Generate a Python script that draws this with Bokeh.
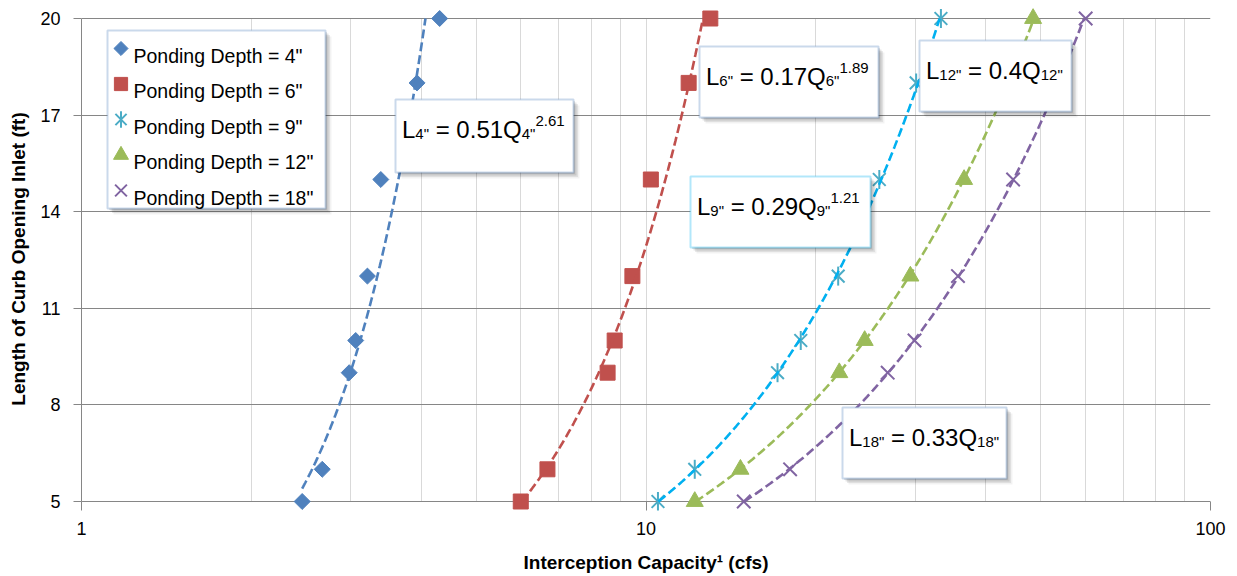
import numpy as np
from bokeh.plotting import figure
from bokeh.models import Range1d, FixedTicker, BasicTickFormatter, BoxAnnotation, Label
from bokeh.embed import file_html
from bokeh.resources import INLINE

# ---------------- data ----------------
depths = ['4"', '6"', '9"', '12"', '18"']
length_ft = [5, 6, 9, 10, 12, 15, 18, 20]
q_4in = [2.46, 2.67, 2.98, 3.06, 3.21, 3.39, 3.93, 4.31]
q_6in = [6.00, 6.69, 8.55, 8.80, 9.46, 10.2, 11.9, 13.0]
q_9in = [10.5, 12.2, 17.1, 18.8, 21.9, 25.9, 30.1, 33.3]
q_12in = [12.2, 14.7, 22.0, 24.4, 29.4, 36.6, 43.8, 48.5]
q_18in = [14.9, 18.0, 26.8, 29.9, 35.7, 44.7, 53.5, 60.1]
eq_coef = ["0.51", "0.17", "0.29", "0.4", "0.33"]
eq_exp = ["2.61", "1.89", "1.21", "", ""]
x_ticks = [1, 10, 100]
y_ticks = [5, 8, 11, 14, 17, 20]
x_title = "Interception Capacity\u00b9 (cfs)"
y_title = "Length of Curb Opening Inlet (ft)"

# ---------------- layout (screenshot pixels) ----------------
FONT = "Liberation Sans"
FL, FT, FW, FH = 81, 18, 1129, 483      # plot area (y=20 at FT, y=5 at FT+FH)
PAD_TOP, PAD_BOT = 11, 9                # room so edge markers are not clipped
X0, X1, Y0, Y1 = 1, 100, 5, 20
UPP = (Y1 - Y0) / FH                    # data units per pixel (y)

def dx(px):
    return X0 * (X1 / X0) ** ((px - FL) / FW)

def dy(py):
    return Y1 - (Y1 - Y0) * (py - FT) / FH

BLUE, RED, AQUA, GREEN, PURPLE = "#4F81BD", "#C0504D", "#4BACC6", "#9BBB59", "#8064A2"
CYAN = "#00B0F0"
GRID_DARK, GRID_LIGHT = "#868686", "#D9D9D9"

p = figure(x_axis_type="log", x_range=Range1d(X0, X1),
           y_range=Range1d(Y0 - PAD_BOT * UPP, Y1 + PAD_TOP * UPP),
           frame_width=FW, frame_height=FH + PAD_TOP + PAD_BOT,
           min_border_left=FL, min_border_top=FT - PAD_TOP,
           min_border_right=18, min_border_bottom=55,
           output_backend="svg", toolbar_location=None,
           background_fill_color="white", border_fill_color="white")
p.outline_line_color = None

xt = FixedTicker(ticks=x_ticks, minor_ticks=[m * d for d in (1, 10) for m in range(2, 10)])
yt = FixedTicker(ticks=y_ticks, minor_ticks=[])
p.xaxis.ticker = xt
p.xgrid.ticker = xt
p.yaxis.ticker = yt
p.ygrid.ticker = yt
p.xaxis.formatter = BasicTickFormatter()
p.yaxis.bounds = (Y0, Y1)
p.xgrid.cross_bounds = (Y0, Y1)

p.xgrid.grid_line_color = GRID_LIGHT
p.xgrid.minor_grid_line_color = GRID_LIGHT
p.ygrid.grid_line_color = GRID_DARK

for ax in (p.xaxis, p.yaxis):
    ax.axis_line_color = GRID_DARK
    ax.major_tick_line_color = GRID_DARK
    ax.minor_tick_line_color = None
    ax.major_label_text_font = FONT
    ax.major_label_text_font_size = "18px"
    ax.major_label_text_color = "black"
    ax.axis_label_text_font = FONT
    ax.axis_label_text_font_size = "19px"
    ax.axis_label_text_font_style = "bold"
    ax.axis_label_text_color = "black"

p.yaxis.major_tick_out = 8
p.yaxis.major_tick_in = 0
p.xaxis.axis_line_color = None
p.xaxis.major_tick_out = 0
p.xaxis.major_tick_in = PAD_BOT

p.xaxis.axis_label = x_title
p.yaxis.axis_label = y_title
p.xaxis.major_label_standoff = 7
p.yaxis.major_label_standoff = 13
p.xaxis.axis_label_standoff = 14
p.yaxis.axis_label_standoff = 8

# ---------------- series ----------------
series_q = [q_4in, q_6in, q_9in, q_12in, q_18in]
trend_colors = [BLUE, RED, CYAN, GREEN, PURPLE]

def draw_marker(idx, xs, ys, scale=1.0, level="glyph"):
    if idx == 0:
        p.scatter(xs, ys, marker="square", angle=np.pi / 4, size=11.3 * scale,
                  fill_color=BLUE, line_color=BLUE, level=level)
    elif idx == 1:
        p.scatter(xs, ys, marker="square", size=15 * scale,
                  fill_color=RED, line_color=RED, level=level)
    elif idx == 2:
        p.scatter(xs, ys, marker="x", size=18 * scale, line_color=AQUA,
                  line_width=2, level=level)
        p.scatter(xs, ys, marker="dash", angle=np.pi / 2, size=19 * scale,
                  line_color=AQUA, line_width=2, level=level)
    elif idx == 3:
        p.scatter(xs, ys, marker="triangle", size=17 * scale,
                  fill_color=GREEN, line_color=GREEN, level=level)
    else:
        p.scatter(xs, ys, marker="x", size=19 * scale, line_color=PURPLE,
                  line_width=2, level=level)

for i, q in enumerate(series_q):
    draw_marker(i, q, length_ft)

# power trend lines fitted to each series (as Excel does), kept inside 5..20 ft
for i, q in enumerate(series_q):
    qa = np.array(q, dtype=float)
    la = np.array(length_ft, dtype=float)
    b, ln_a = np.polyfit(np.log(qa), np.log(la), 1)
    a = np.exp(ln_a)
    q_lo = max(qa.min(), (Y0 / a) ** (1 / b))
    q_hi = min(qa.max(), (Y1 / a) ** (1 / b))
    qs = np.geomspace(q_lo, q_hi, 120)
    p.line(qs, a * qs ** b, line_color=trend_colors[i],
           line_width=2.6, line_dash="9 4")

# ---------------- boxes ----------------
def add_box(l, t, r, b, color, lw=2):
    for off, al in ((6, 0.05), (4.5, 0.08), (3, 0.10), (1.5, 0.10)):
        p.add_layout(BoxAnnotation(left=dx(l + off), right=dx(r + off),
                                   top=dy(t + off), bottom=dy(b + off),
                                   fill_color="black", fill_alpha=al,
                                   line_color=None))
    p.add_layout(BoxAnnotation(left=dx(l), right=dx(r), top=dy(t), bottom=dy(b),
                               fill_color="white", fill_alpha=1.0,
                               line_color=color, line_width=lw))

# Arial / Liberation Sans advance widths (per 1000 em)
ADV = {"L": 556, "Q": 778, "=": 584, " ": 278, ".": 278, '"': 355}
for c in "0123456789":
    ADV[c] = 556

def text_w(s, size):
    return sum(ADV.get(c, 556) for c in s) * size / 1000.0

def add_text(px, py, text, size, bold=False):
    p.add_layout(Label(x=dx(px), y=dy(py), text=text, text_font=FONT,
                       text_font_size=f"{size}px", text_color="black",
                       text_baseline="alphabetic", text_align="left",
                       text_font_style="bold" if bold else "normal"))

EQ, SUB = 24, 15
eq_boxes = [(395, 99, 573, 172), (699, 46, 878, 117), (690, 176, 870, 247),
            (919, 40, 1071, 111), (842, 407, 1006, 478)]
eq_border = [BLUE, BLUE, CYAN, BLUE, BLUE]

for i, (l, t, r, b) in enumerate(eq_boxes):
    add_box(l, t, r, b, eq_border[i])
    base = t + 29.5
    # (text, font size, baseline shift, leading gap in px)
    pieces = [("L", EQ, 0, 0), (depths[i], SUB, 4.5, 0),
              ("= " + eq_coef[i] + "Q", EQ, 0, text_w(" ", EQ)),
              (depths[i], SUB, 4.5, 0)]
    if eq_exp[i]:
        pieces.append((eq_exp[i], SUB, -8, 0))
    cx = l + 6.5
    for txt, size, shift, gap in pieces:
        cx += gap
        add_text(cx, base + shift, txt, size)
        cx += text_w(txt, size)

# ---------------- legend ----------------
LG = (107, 30, 325, 208)
add_box(*LG, BLUE)
leg_y = [48, 83.5, 119, 154.5, 190]
for i, d in enumerate(depths):
    draw_marker(i, [dx(120.5)], [dy(leg_y[i])], scale=0.88, level="overlay")
    add_text(133, leg_y[i] + 7, f"Ponding Depth = {d}", 19.5)

open("out.html", "w").write(file_html(p, INLINE))
